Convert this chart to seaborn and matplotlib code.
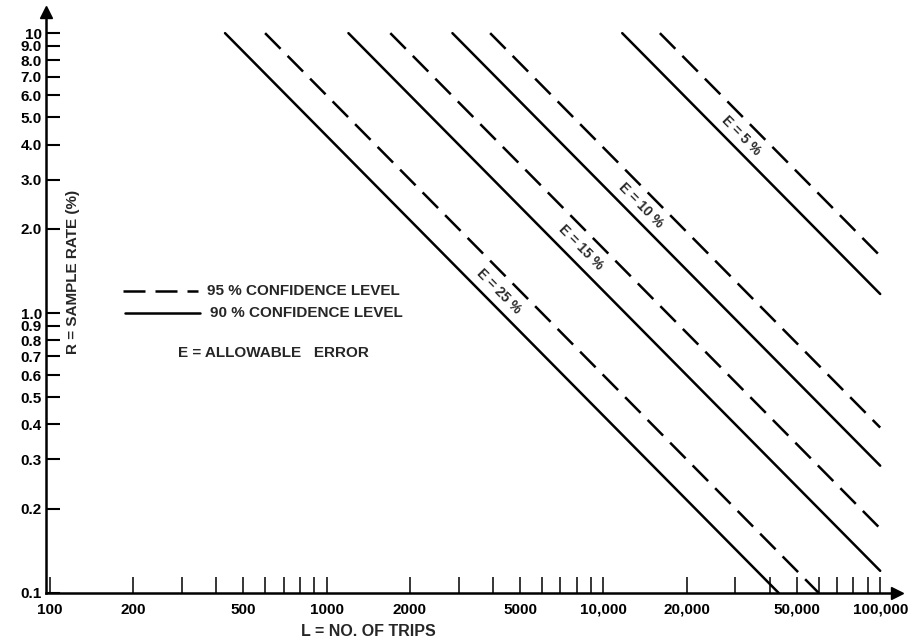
import matplotlib
matplotlib.use("Agg")
import matplotlib.pyplot as plt
from matplotlib.lines import Line2D
from matplotlib.ticker import FixedLocator, FixedFormatter, NullLocator
import pandas as pd
import seaborn as sns

# allowable error E for each pair of lines
errors = ["25 %", "15 %", "10 %", "5 %"]

# every line starts at R = 10 % and runs down to its end point
rate_start = 10

# 90 % confidence level (solid)
trips_start_90 = [430, 1200, 2850, 11700]
trips_end_90 = [43000, 100000, 100000, 100000]
rate_end_90 = [0.1, 0.12, 0.285, 1.17]

# 95 % confidence level (dashed)
trips_start_95 = [600, 1700, 3900, 16000]
trips_end_95 = [60000, 100000, 100000, 100000]
rate_end_95 = [0.1, 0.17, 0.39, 1.6]

# where the "E = .." labels sit, between the two lines of a pair
label_trips = [4200, 8300, 13700, 31500]
label_rate = [1.2, 1.72, 2.43, 4.3]

x_ticks = [100, 200, 300, 400, 500, 600, 700, 800, 900,
           1000, 2000, 3000, 4000, 5000, 6000, 7000, 8000, 9000,
           10000, 20000, 30000, 40000, 50000, 60000, 70000, 80000, 90000,
           100000]
x_labels = ["100", "200", "", "", "500", "", "", "", "",
            "1000", "2000", "", "", "5000", "", "", "", "",
            "10,000", "20,000", "", "", "50,000", "", "", "", "",
            "100,000"]
y_ticks = [0.1, 0.2, 0.3, 0.4, 0.5, 0.6, 0.7, 0.8, 0.9,
           1, 2, 3, 4, 5, 6, 7, 8, 9, 10]
y_labels = ["0.1", "0.2", "0.3", "0.4", "0.5", "0.6", "0.7", "0.8", "0.9",
            "1.0", "2.0", "3.0", "4.0", "5.0", "6.0", "7.0", "8.0", "9.0", "10"]

rows = []
for i, e in enumerate(errors):
    rows.append(dict(L=trips_start_90[i], R=rate_start, E=e, level="90 %"))
    rows.append(dict(L=trips_end_90[i], R=rate_end_90[i], E=e, level="90 %"))
    rows.append(dict(L=trips_start_95[i], R=rate_start, E=e, level="95 %"))
    rows.append(dict(L=trips_end_95[i], R=rate_end_95[i], E=e, level="95 %"))
df = pd.DataFrame(rows)

sns.set_theme(style="white")
plt.rcParams["font.family"] = ["Liberation Sans", "DejaVu Sans"]
plt.rcParams["font.weight"] = "bold"

W, H = 910, 641
AX_L, AX_R, AX_B, AX_T = 46, 897, 593, 12
fig = plt.figure(figsize=(W / 100, H / 100), dpi=100)
ax = fig.add_axes([AX_L / W, (H - AX_B) / H, (AX_R - AX_L) / W, (AX_B - AX_T) / H])

dash = (8.8, 4)
sns.lineplot(data=df, x="L", y="R", units="E", style="level", estimator=None,
             sort=False, color="black", dashes={"90 %": "", "95 %": dash},
             linewidth=1.8, legend=False, ax=ax)

ax.set_xscale("log")
ax.set_yscale("log")
ax.set_xlim(97, 115000)
ax.set_ylim(0.1, 11.9)

ax.xaxis.set_major_locator(FixedLocator(x_ticks))
ax.xaxis.set_major_formatter(FixedFormatter(x_labels))
ax.yaxis.set_major_locator(FixedLocator(y_ticks))
ax.yaxis.set_major_formatter(FixedFormatter(y_labels))
ax.xaxis.set_minor_locator(NullLocator())
ax.yaxis.set_minor_locator(NullLocator())

ax.tick_params(axis="x", direction="in", length=11.5, width=1.1, pad=7,
               labelsize=11, colors="black", bottom=True)
ax.tick_params(axis="y", direction="in", length=10, width=1.5, pad=3,
               labelsize=11, colors="black", left=True)

for s in ["top", "right"]:
    ax.spines[s].set_visible(False)
for s in ["left", "bottom"]:
    ax.spines[s].set_linewidth(1.8)
    ax.spines[s].set_color("black")

# arrow heads at the ends of the axes
ax.plot(1, 0, ">", color="black", ms=9, transform=ax.transAxes, clip_on=False)
ax.plot(0, 1, "^", color="black", ms=9, transform=ax.transAxes, clip_on=False)

ax.set_xlabel("")
ax.set_ylabel("")


def fx(px):
    return (px - AX_L) / (AX_R - AX_L)


def fy(py):
    return (AX_B - py) / (AX_B - AX_T)


ax.text(fx(368), fy(632), "L = NO. OF TRIPS", transform=ax.transAxes,
        ha="center", va="center", fontsize=11.5, fontweight="bold")
ax.text(fx(73), fy(272), "R = SAMPLE RATE (%)", transform=ax.transAxes,
        ha="center", va="center", rotation=90, fontsize=11, fontweight="bold")

# E labels along the lines
for e, lx, ly in zip(errors, label_trips, label_rate):
    ax.text(lx, ly, "E = " + e, rotation=-45.3, ha="center", va="center",
            fontsize=10, fontweight="bold", color="#2a2a2a",
            rotation_mode="anchor")

# hand-drawn key
ax.add_line(Line2D([fx(123), fx(198)], [fy(291), fy(291)], transform=ax.transAxes,
                   color="black", lw=1.8, dashes=dash, clip_on=False))
ax.add_line(Line2D([fx(125), fx(200)], [fy(313), fy(313)], transform=ax.transAxes,
                   color="black", lw=1.8, clip_on=False))
ax.text(fx(207), fy(291), "95 % CONFIDENCE LEVEL", transform=ax.transAxes,
        ha="left", va="center", fontsize=11, fontweight="bold")
ax.text(fx(210), fy(313), "90 % CONFIDENCE LEVEL", transform=ax.transAxes,
        ha="left", va="center", fontsize=11, fontweight="bold")
ax.text(fx(178), fy(353), "E = ALLOWABLE   ERROR", transform=ax.transAxes,
        ha="left", va="center", fontsize=11, fontweight="bold")

fig.savefig("out.png", dpi=100)
